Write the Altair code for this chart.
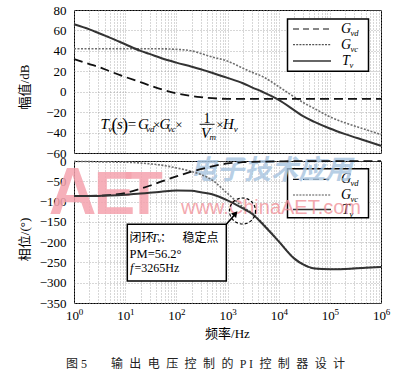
import altair as alt
import pandas as pd

SERIF = "Liberation Serif"
MIX = "Liberation Serif, Noto Sans CJK SC"
CJK = "Noto Sans CJK SC"

# ---------------- data ----------------
freq_hz = [1, 2, 3, 5, 10, 20, 30, 50, 100, 200, 300, 500, 1000, 2000, 3000, 5000,
           10000, 20000, 30000, 50000, 100000, 200000, 500000, 1000000]

mag_gvd = [32, 27, 24.3, 20, 14.5, 9.3, 6.2, 2.5, -1.5, -4.2, -5.3, -6.3, -7, -7, -7, -7,
           -7, -7, -7, -7, -7, -7, -7, -7]
mag_gvc = [42, 42, 42, 42, 42, 42, 42, 42, 41.5, 40, 37.5, 34, 30, 23, 19, 14.5,
           5, -5, -10.5, -16.5, -24.5, -30.5, -37, -42]
mag_tv = [66, 61, 57.5, 53, 46.5, 40, 37, 33, 28.5, 24.5, 22, 18.5, 13.6, 8.3, 4.3, -0.5,
          -8, -18, -24, -29.5, -36, -41.5, -48, -53]

ph_gvd = [-86, -86, -85.5, -84, -79, -68, -61, -51, -38, -26, -20, -13, -6, -3, -2, -1.5,
          -1, -0.5, -0.5, -0.3, -0.2, -0.2, -0.1, -0.1]
ph_gvc = [-1, -1.5, -2, -2.5, -3, -5, -7, -10, -17, -26, -33, -47, -80, -113, -128, -155,
          -197, -239.5, -254.5, -264.7, -266.8, -265.8, -262.9, -260.9]
ph_tv = [-86, -86, -86, -85, -83, -80, -78.5, -76, -73, -73.5, -77, -82, -97, -117, -130, -157,
         -198, -240, -255, -265, -267, -266, -263, -261]

decades = [1, 10, 100, 1000, 10000, 100000, 1000000]
exponents = ["0", "1", "2", "3", "4", "5", "6"]
mag_ticks = [-60, -40, -20, 0, 20, 40, 60, 80]
ph_ticks = [-350, -300, -250, -200, -150, -100, -50, 0]

grid_vals = [m * 10 ** e for e in range(6) for m in range(1, 10)] + [1000000]

W = 307
H1 = 143
H2 = 142

DUMMY = pd.DataFrame({"a": [0]})


def T(s, x, y, size=13, font=SERIF, style="normal", align="left", baseline="middle",
      color="black", opacity=1.0, weight="normal"):
    return alt.Chart(DUMMY).mark_text(
        text=s, font=font, fontSize=size, fontStyle=style, align=align,
        baseline=baseline, color=color, opacity=opacity, fontWeight=weight
    ).encode(x=alt.value(x), y=alt.value(y))


def R(x1, y1, x2, y2, width=1.0, dash=None, color="black"):
    kw = dict(color=color, strokeWidth=width)
    if dash:
        kw["strokeDash"] = dash
    return alt.Chart(DUMMY).mark_rule(**kw).encode(
        x=alt.value(x1), y=alt.value(y1), x2=alt.value(x2), y2=alt.value(y2))


def BOX(x1, y1, x2, y2, width=1.5):
    return alt.Chart(DUMMY).mark_rect(fill="white", stroke="black", strokeWidth=width).encode(
        x=alt.value(x1), y=alt.value(y1), x2=alt.value(x2), y2=alt.value(y2))


xscale = alt.Scale(type="log", domain=[1, 1000000], nice=False)
xaxis = alt.Axis(values=grid_vals, labels=False, ticks=False, domain=False, title=None, grid=True)

STYLE = {
    "Gvc": dict(color="#6e6e6e", strokeWidth=1.6, strokeDash=[2, 1.5]),
    "Gvd": dict(color="#111111", strokeWidth=1.8, strokeDash=[9, 5]),
    "Tv": dict(color="#333333", strokeWidth=2.0),
}


def lines(values_by_name, yscale, yaxis):
    layers = []
    for name in ["Gvc", "Gvd", "Tv"]:
        df = pd.DataFrame({"f": freq_hz, "v": values_by_name[name]})
        layers.append(
            alt.Chart(df).mark_line(interpolate="monotone", **STYLE[name]).encode(
                x=alt.X("f:Q", scale=xscale, axis=xaxis),
                y=alt.Y("v:Q", scale=yscale, axis=yaxis),
            )
        )
    return layers


def legend(y_top, y_bot, ys):
    out = [BOX(213.5, y_top, 294.5, y_bot)]
    out.append(R(219, ys[0], 257, ys[0], width=1.2, dash=[6, 4], color="#111"))
    out.append(R(219, ys[1], 257, ys[1], width=1.2, dash=[2, 1.2], color="#555"))
    out.append(R(219, ys[2], 257, ys[2], width=1.3, color="#333"))
    out.append(T("G", 267, ys[0], size=14, style="italic"))
    out.append(T("vd", 276.5, ys[0] + 4, size=8.5, style="italic"))
    out.append(T("G", 267, ys[1], size=14, style="italic"))
    out.append(T("vc", 276.5, ys[1] + 4, size=8.5, style="italic"))
    out.append(T("T", 268, ys[2], size=14, style="italic"))
    out.append(T("v", 275.5, ys[2] + 4, size=8.5, style="italic"))
    return out


# ---------------- top panel: magnitude ----------------
y1_scale = alt.Scale(domain=[-60, 80], nice=False)
y1_axis = alt.Axis(values=mag_ticks, format="d", title="幅值/dB", titleFont=MIX,
                   titleFontSize=13, titleFontWeight="normal", titleX=-50,
                   titleY=H1 / 2 + 5, titleBaseline="middle", titleAlign="center")

top_layers = lines({"Gvd": mag_gvd, "Gvc": mag_gvc, "Tv": mag_tv}, y1_scale, y1_axis)
top_layers += legend(9, 61.3, [19, 34.7, 51])
# formula  T_v(s) = G_vd x G_vc x 1/V_m x H_v
top_layers += [
    T("T", 26.6, 119, size=15, style="italic", baseline="alphabetic"),
    T("v", 34.2, 121.5, size=9, style="italic", baseline="alphabetic"),
    T("(", 37.5, 120.5, size=18, baseline="alphabetic"),
    T("s", 43.0, 119, size=15, style="italic", baseline="alphabetic"),
    T(")", 48.0, 120.5, size=18, baseline="alphabetic"),
    T("=", 53.8, 119, size=15, baseline="alphabetic"),
    T("G", 64, 119, size=15, style="italic", baseline="alphabetic"),
    T("vd", 72, 121.5, size=9, style="italic", baseline="alphabetic"),
    T("×", 79, 119, size=13, baseline="alphabetic"),
    T("G", 85.6, 119, size=15, style="italic", baseline="alphabetic"),
    T("vc", 93.8, 121.5, size=9, style="italic", baseline="alphabetic"),
    T("×", 101.3, 119, size=13, baseline="alphabetic"),
    T("1", 133, 112.5, size=14, align="center", baseline="alphabetic"),
    R(125.6, 114.3, 140.6, 114.3, width=0.9),
    T("V", 127, 127.7, size=15, style="italic", baseline="alphabetic"),
    T("m", 135.5, 130, size=9, style="italic", baseline="alphabetic"),
    T("×", 142.3, 119, size=13, baseline="alphabetic"),
    T("H", 149, 119, size=15, style="italic", baseline="alphabetic"),
    T("v", 159.8, 121.5, size=9, style="italic", baseline="alphabetic"),
]
top = alt.layer(*top_layers).properties(width=W, height=H1)

# ---------------- bottom panel: phase ----------------
y2_scale = alt.Scale(domain=[-350, 0], nice=False)
y2_axis = alt.Axis(values=ph_ticks, format="d", title="相位/(°)", titleFont=MIX,
                   titleFontSize=13, titleFontWeight="normal", titleX=-50,
                   titleY=H2 / 2 + 7, titleBaseline="middle", titleAlign="center")

ph_layers = lines({"Gvd": ph_gvd, "Gvc": ph_gvc, "Tv": ph_tv}, y2_scale, y2_axis)

WM_FONT = "Liberation Sans"
bot_layers = []
# boxes first (white fill)
bot_layers += legend(7.7, 56.7, [18.3, 34, 48.5])
bot_layers.append(BOX(53.3, 63.3, 152.3, 120))
# watermark (behind curves)
bot_layers += [
    T("电子技术应用", 197, 10, size=27, font=CJK, align="center", color="#a7c4df",
      opacity=0.8, weight="bold", style="italic"),
    T("A", -1.5, 53, size=66, font=WM_FONT, align="center", baseline="alphabetic",
      color="#f5a3ae", opacity=0.85, weight="bold"),
    T("E", 40.5, 53, size=62, font=WM_FONT, align="center", baseline="alphabetic",
      color="#f5a3ae", opacity=0.85, weight="bold"),
    T("T", 70, 53, size=62, font=WM_FONT, align="center", baseline="alphabetic",
      color="#f5a3ae", opacity=0.85, weight="bold"),
    T("www.ChinaAET.com", 197, 47, size=20, font=WM_FONT, align="center",
      color="#f08c94", opacity=0.75),
]
bot_layers += ph_layers
# annotation
bot_layers += [
    T("闭环", 55.6, 76.7, size=12, font=CJK),
    T("T", 77, 76.7, size=12.5, style="italic"),
    T("v", 83.5, 79.5, size=8, style="italic"),
    T("：", 86, 76.7, size=12, font=CJK),
    T("稳定点", 108.5, 76.7, size=12, font=CJK),
    T("PM=56.2°", 55.6, 92.5, size=12.5),
    T("f", 56, 106.7, size=12.5, style="italic"),
    T("=3265Hz", 60.5, 106.7, size=12),
    alt.Chart(DUMMY).mark_point(shape="circle", filled=False, size=676, color="black",
                                strokeWidth=1.2, strokeDash=[3, 2], opacity=1).encode(
        x=alt.value(168.5), y=alt.value(50)),
    R(152.3, 63.3, 160.5, 54, width=1.6),
    alt.Chart(DUMMY).mark_point(shape="triangle-up", filled=True, size=45, color="black",
                                angle=41, opacity=1).encode(
        x=alt.value(161.5), y=alt.value(52.5)),
]
# x tick labels 10^k, axis title and caption
dec_df = pd.DataFrame({"f": decades, "e": exponents})
SEP = " \u2009\u200a"
caption = ("图 5\u3000\u2003" + SEP.join(list("输出电压控制的")) + SEP + "P I" + SEP
           + SEP.join(list("控制器设计")))
bot_layers += [
    alt.Chart(dec_df).mark_text(text="10", font=SERIF, fontSize=13, dx=-1.5, color="black").encode(
        x=alt.X("f:Q", scale=xscale), y=alt.value(H2 + 12.5)),
    alt.Chart(dec_df).mark_text(font=SERIF, fontSize=9, dx=7, dy=-4, color="black").encode(
        x=alt.X("f:Q", scale=xscale), y=alt.value(H2 + 12.5), text="e:N"),
    T("频率/Hz", W / 2, H2 + 31, size=13, font=MIX, align="center"),
    T(caption, 131.5, H2 + 61, size=12, font=MIX, align="center", color="#222"),
]
bottom = alt.layer(*bot_layers).properties(width=W, height=H2)

chart = alt.vconcat(top, bottom, spacing=8, bounds="flush").properties(
    padding={"left": 17, "top": 3, "right": 5, "bottom": 2}
).configure_view(stroke="black", strokeWidth=1).configure_axis(
    labelFont=SERIF, labelFontSize=13, labelColor="black", labelPadding=8,
    gridColor="#9a9a9a", gridDash=[1, 2], gridWidth=0.8, ticks=False, domain=False,
    titleColor="black"
)

chart.save("out.html", embed_options={"renderer": "svg", "actions": False})
